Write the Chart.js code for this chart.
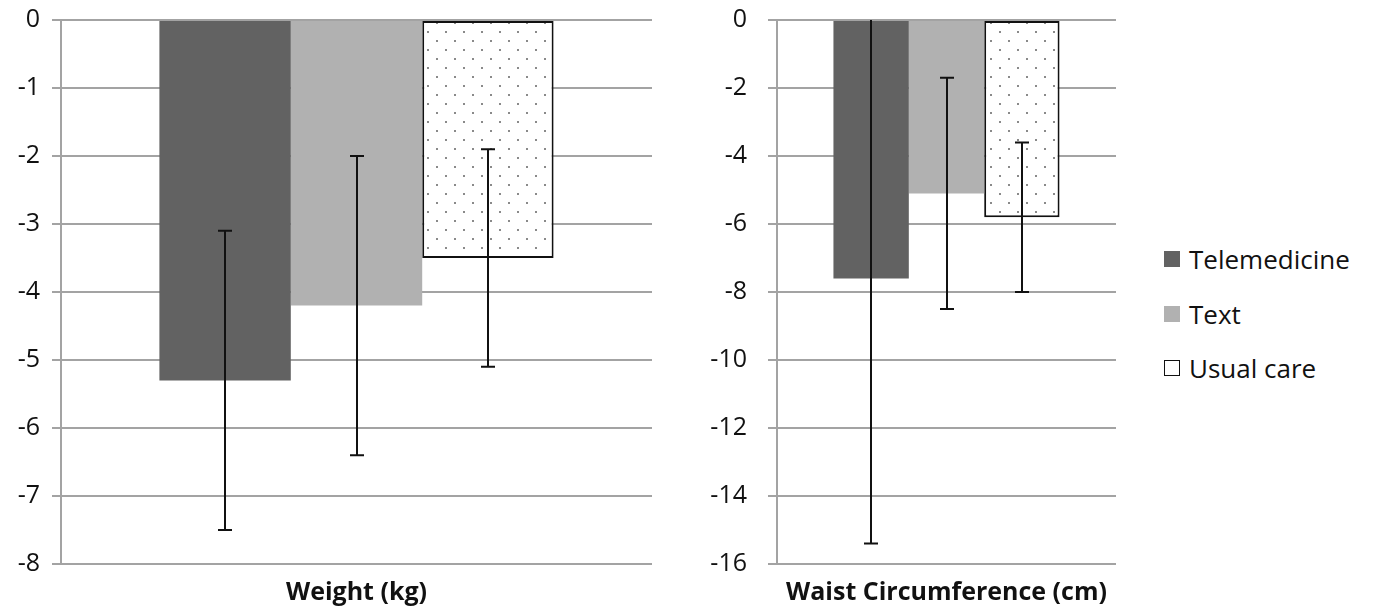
<!DOCTYPE html>
<html>
<head>
<meta charset="utf-8">
<script src="https://cdn.jsdelivr.net/npm/chart.js@4.4.0/dist/chart.umd.min.js"></script>
<style>
  html, body { margin: 0; padding: 0; background: #fff; }
  body { width: 1373px; height: 612px; position: relative; overflow: hidden; font-family: 'Open Sans', sans-serif; }
  .panel { position: absolute; top: 0; height: 612px; }
  #legend { position: absolute; left: 1164px; top: 0; }
  .lg-item { position: absolute; left: 0; display: flex; align-items: center; white-space: nowrap; font-size: 26px; color: #111; }
  .lg-box { width: 16px; height: 16px; margin-right: 9px; box-sizing: border-box; }
</style>
</head>
<body>
<div class="panel" style="left:0;width:680px"><canvas id="weight-chart"></canvas></div>
<div class="panel" style="left:680px;width:460px"><canvas id="waist-chart"></canvas></div>
<div id="legend"></div>
<script>
// ── Data ─────────────────────────────────
const seriesNames = ['Telemedicine', 'Text', 'Usual care'];

const weightLabel = ['Weight (kg)'];
const weightMeans = [-5.3, -4.2, -3.5];
const weightLow = [-7.5, -6.4, -5.1];
const weightHigh = [-3.1, -2.0, -1.9];
const weightTicks = { min: -8, max: 0, step: 1 };

const waistLabel = ['Waist Circumference (cm)'];
const waistMeans = [-7.6, -5.1, -5.8];
const waistLow = [-15.4, -8.5, -8.0];
const waistHigh = [0.3, -1.7, -3.6];
const waistTicks = { min: -16, max: 0, step: 2 };

// ── Styles ───────────────────────────────
const GRID = '#a3a3a3';
const TEXT = '#111111';
const FONT = "'Open Sans', sans-serif";

function dotPattern() {
  const c = document.createElement('canvas');
  c.width = 18; c.height = 18;
  const g = c.getContext('2d');
  g.fillStyle = '#ffffff';
  g.fillRect(0, 0, 18, 18);
  g.fillStyle = '#8a8a8a';
  g.fillRect(4, 4, 2, 2);
  g.fillRect(13, 13, 2, 2);
  return g.createPattern(c, 'repeat');
}
const pattern = dotPattern();

const fills = ['#626262', '#b1b1b1', pattern];

// error bars drawn through the library's scales
const errorBars = {
  id: 'errorBars',
  afterDatasetsDraw(chart) {
    const ctx = chart.ctx;
    const y = chart.scales.y;
    const area = chart.chartArea;
    ctx.save();
    ctx.beginPath();
    ctx.rect(area.left, area.top, area.right - area.left, area.bottom - area.top);
    ctx.clip();
    ctx.strokeStyle = '#111';
    ctx.lineWidth = 2;
    chart.data.datasets.forEach((ds, i) => {
      const meta = chart.getDatasetMeta(i);
      meta.data.forEach((bar, j) => {
        const top = y.getPixelForValue(ds.errHigh[j]);
        const bot = y.getPixelForValue(ds.errLow[j]);
        const x = Math.round(bar.x);
        ctx.beginPath();
        ctx.moveTo(x, top); ctx.lineTo(x, bot);
        ctx.moveTo(x - 7, top); ctx.lineTo(x + 7, top);
        ctx.moveTo(x - 7, bot); ctx.lineTo(x + 7, bot);
        ctx.stroke();
      });
    });
    ctx.restore();
  }
};

function makeChart(id, label, means, lows, highs, ticks, axisWidth, padRight, labelPad) {
  const datasets = seriesNames.map((name, i) => ({
    label: name,
    data: [means[i]],
    errLow: [lows[i]],
    errHigh: [highs[i]],
    backgroundColor: fills[i],
    borderColor: i === 2 ? '#111' : fills[i],
    borderWidth: i === 2 ? 2 : 0,
    borderSkipped: false,
    categoryPercentage: 0.667,
    barPercentage: 1
  }));

  return new Chart(document.getElementById(id), {
    type: 'bar',
    data: { labels: label, datasets: datasets },
    plugins: [errorBars],
    options: {
      responsive: true, maintainAspectRatio: false, animation: false,
      layout: { padding: { top: 20, right: padRight, bottom: 0, left: 0 } },
      plugins: { legend: { display: false }, tooltip: { enabled: false } },
      scales: {
        x: {
          grid: { display: false },
          border: { display: false },
          ticks: { color: TEXT, padding: 6, maxRotation: 0, minRotation: 0, autoSkip: false,
                   font: { family: FONT, size: 25, weight: 'bold' } },
          afterFit: s => { s.height = 48; s.paddingTop = 0; s.paddingLeft = 0; s.paddingRight = 0; }
        },
        y: {
          min: ticks.min, max: ticks.max,
          grid: { color: GRID, lineWidth: 2, tickLength: 9, tickColor: GRID },
          border: { color: GRID, width: 2 },
          ticks: { stepSize: ticks.step, color: TEXT, padding: labelPad, font: { family: FONT, size: 25 } },
          afterFit: s => { s.width = axisWidth; s.paddingTop = 0; s.paddingBottom = 0; }
        }
      }
    }
  });
}

makeChart('weight-chart', weightLabel, weightMeans, weightLow, weightHigh, weightTicks, 61, 28, 12);
makeChart('waist-chart', waistLabel, waistMeans, waistLow, waistHigh, waistTicks, 97, 24, 21);

// ── Legend ───────────────────────────────
const legendTops = [259, 314, 368];
const legend = document.getElementById('legend');
seriesNames.forEach((name, i) => {
  const item = document.createElement('div');
  item.className = 'lg-item';
  item.style.top = (legendTops[i] - 18) + 'px';
  const box = document.createElement('span');
  box.className = 'lg-box';
  box.style.background = i === 2 ? '#fff' : fills[i];
  if (i === 2) box.style.border = '1.6px solid #111';
  const txt = document.createElement('span');
  txt.textContent = name;
  item.appendChild(box);
  item.appendChild(txt);
  legend.appendChild(item);
});
</script>
</body>
</html>
